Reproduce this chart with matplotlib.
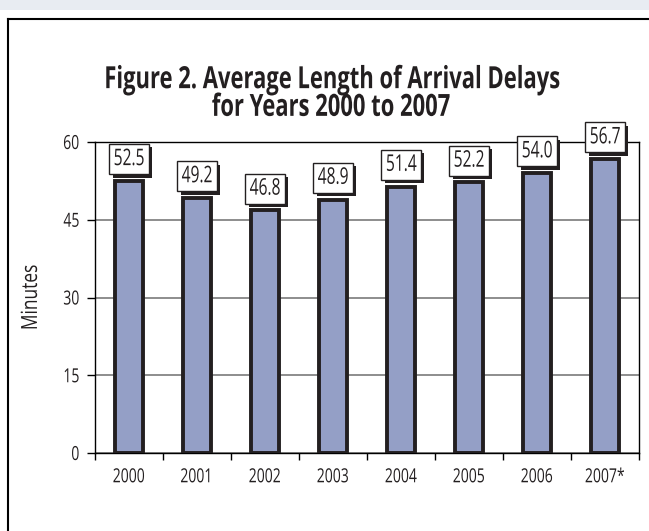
import matplotlib
matplotlib.use('Agg')
import matplotlib.pyplot as plt
from matplotlib import patheffects
from matplotlib.patches import Rectangle
from matplotlib.lines import Line2D
from matplotlib.transforms import Affine2D

# Data
years = ['2000', '2001', '2002', '2003', '2004', '2005', '2006', '2007*']
delays = [52.5, 49.2, 46.8, 48.9, 51.4, 52.2, 54.0, 56.7]
y_ticks = [0, 15, 30, 45, 60]


class Condense(patheffects.AbstractPathEffect):
    """Squeeze glyphs horizontally to mimic a condensed typeface."""

    def __init__(self, sx=0.75, anchor='center'):
        super().__init__()
        self.sx = sx
        self.anchor = anchor

    def draw_path(self, renderer, gc, tpath, affine, rgbFace=None):
        ext = tpath.get_extents()
        if self.anchor == 'right':
            cx = ext.x1
        else:
            cx = (ext.x0 + ext.x1) / 2
        squeeze = Affine2D().translate(-cx, 0).scale(self.sx, 1).translate(cx, 0)
        renderer.draw_path(gc, tpath, squeeze + affine, rgbFace)


plt.rcParams['font.family'] = ['Open Sans', 'DejaVu Sans']

fig = plt.figure(figsize=(6.49, 5.31), dpi=100)
W, H = 649, 531

# light band at the very top
fig.patches.append(Rectangle((0, 1 - 10 / H), 1, 10 / H, transform=fig.transFigure,
                             facecolor='#e8ecf2', edgecolor='none', zorder=0))
# outer frame (left and top)
fig.lines.append(Line2D([8 / W, 8 / W], [0, 1 - 19 / H], transform=fig.transFigure,
                        color='black', lw=1.5))
fig.lines.append(Line2D([8 / W, 1], [1 - 19 / H, 1 - 19 / H], transform=fig.transFigure,
                        color='black', lw=1.5))

title = fig.text(331 / W, 1 - 94 / H, 'Figure 2. Average Length of Arrival Delays\nfor Years 2000 to 2007',
                 ha='center', va='center', fontsize=22, fontweight='bold', linespacing=0.9,
                 color='#231f20')
title.set_path_effects([Condense(0.72)])

ax = fig.add_axes([95 / W, 1 - 453 / H, 544 / W, 311 / H])

x = list(range(len(years)))
ax.bar(x, delays, width=0.4, color='#949fc6', edgecolor='#231f20', linewidth=2.8, zorder=3)

ax.set_xlim(-0.5, len(years) - 0.5)
ax.set_ylim(0, 60)
ax.set_yticks(y_ticks)
ax.yaxis.grid(True, color='#858585', lw=1.3, zorder=0)
ax.tick_params(axis='y', direction='out', length=6, width=1, labelsize=14, pad=5,
               labelcolor='#231f20')

# x ticks at category boundaries, labels at centers
ax.set_xticks([i - 0.5 for i in range(len(years) + 1)])
ax.set_xticklabels([])
ax.set_xticks(x, minor=True)
ax.set_xticklabels(years, minor=True, fontsize=14, color='#231f20')
ax.tick_params(axis='x', which='major', direction='out', length=5, width=1)
ax.tick_params(axis='x', which='minor', length=0, pad=11)

for s in ax.spines.values():
    s.set_color('black')
    s.set_linewidth(1)

ylab = ax.set_ylabel('Minutes', fontsize=16, labelpad=11, color='#231f20')
ylab.set_path_effects([Condense(0.78)])
for lab in ax.get_xticklabels(minor=True):
    lab.set_path_effects([Condense(0.72)])
for lab in ax.get_yticklabels():
    lab.set_path_effects([Condense(0.72, anchor='right')])

# value labels: white box with a black drop shadow, sitting on each bar
box_w, box_h, gap = 0.574, 5.8, 1.3
shadow_dx, shadow_dy = 0.05, 0.65
for i, v in enumerate(delays):
    x0 = i - box_w / 2
    y0 = v + gap
    ax.add_patch(Rectangle((x0 + shadow_dx, y0 - shadow_dy), box_w, box_h, facecolor='#231f20',
                           edgecolor='none', zorder=4, clip_on=False))
    ax.add_patch(Rectangle((x0, y0), box_w, box_h, facecolor='white', edgecolor='#231f20',
                           lw=1.0, zorder=5, clip_on=False))
    t = ax.text(i, y0 + box_h / 2, '%.1f' % v, ha='center', va='center', fontsize=16.5,
                color='#231f20', zorder=6, clip_on=False)
    t.set_path_effects([Condense(0.68)])

fig.savefig('out.png', dpi=100)
